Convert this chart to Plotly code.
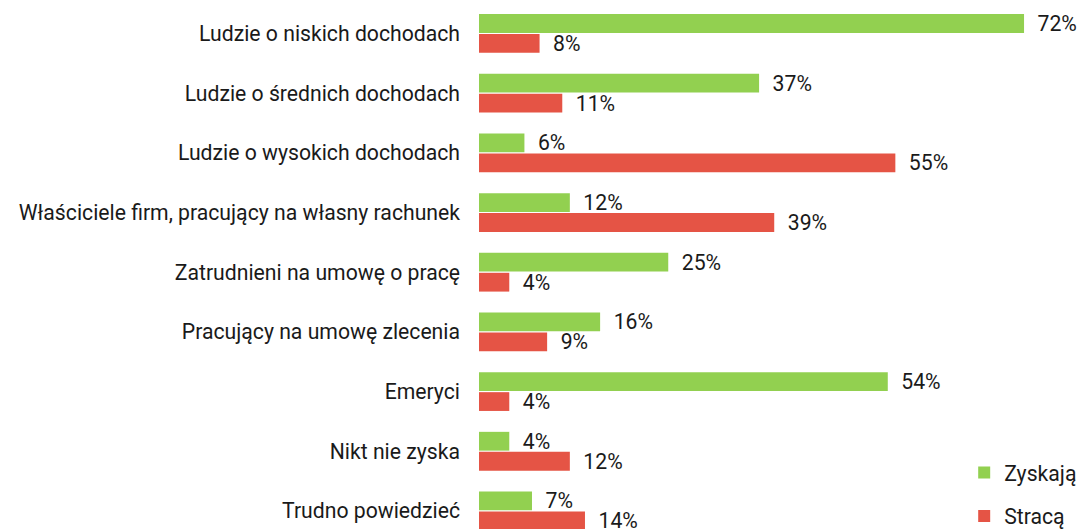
import plotly.graph_objects as go

categories = [
    "Ludzie o niskich dochodach",
    "Ludzie o średnich dochodach",
    "Ludzie o wysokich dochodach",
    "Właściciele firm, pracujący na własny rachunek",
    "Zatrudnieni na umowę o pracę",
    "Pracujący na umowę zlecenia",
    "Emeryci",
    "Nikt nie zyska",
    "Trudno powiedzieć",
]
zyskaja = [72, 37, 6, 12, 25, 16, 54, 4, 7]
straca = [8, 11, 55, 39, 4, 9, 4, 12, 14]

GREEN = "#92D050"
RED = "#E55445"
FONT = "Roboto"
TXT = "#1a1a1a"
FS = 21.2

fig = go.Figure()
fig.add_trace(go.Bar(
    y=categories, x=zyskaja, orientation="h", name="Zyskają",
    marker=dict(color=GREEN, line=dict(width=0)),
    text=[f"\u00a0\u00a0{v}%" for v in zyskaja], textposition="outside",
    constraintext="none",
    textfont=dict(family=FONT, size=FS, color=TXT), cliponaxis=False,
    legendgroup="a", hoverinfo="skip",
))
fig.add_trace(go.Bar(
    y=categories, x=straca, orientation="h", name="Stracą",
    marker=dict(color=RED, line=dict(width=0)),
    text=[f"\u00a0\u00a0{v}%" for v in straca], textposition="outside",
    constraintext="none",
    textfont=dict(family=FONT, size=FS, color=TXT), cliponaxis=False,
    legendgroup="b", hoverinfo="skip",
))

fig.update_layout(
    width=1078, height=529,
    margin=dict(l=479, r=0, t=0, b=0, autoexpand=False),
    barmode="group", bargap=0.33, bargroupgap=0.06,
    plot_bgcolor="white", paper_bgcolor="white",
    font=dict(family=FONT, size=FS, color=TXT),
    showlegend=True,
    legend=dict(
        x=0.81, y=-0.0155, xanchor="left", yanchor="bottom",
        traceorder="grouped", tracegroupgap=13,
        font=dict(family=FONT, size=FS, color=TXT),
        bgcolor="rgba(0,0,0,0)",
    ),
)
fig.update_xaxes(range=[0, 599 / 7.57], visible=False)
fig.update_yaxes(
    categoryorder="array", categoryarray=categories,
    range=[8.303, -0.561], autorange=False,
    showgrid=False, showline=False, zeroline=False, ticks="",
    ticklabelstandoff=18,
    tickfont=dict(family=FONT, size=FS, color=TXT),
)

fig.write_html(
    "out.html",
    config={"displayModeBar": False},
    post_script="document.body.style.margin='0';document.body.style.overflow='hidden';",
)
